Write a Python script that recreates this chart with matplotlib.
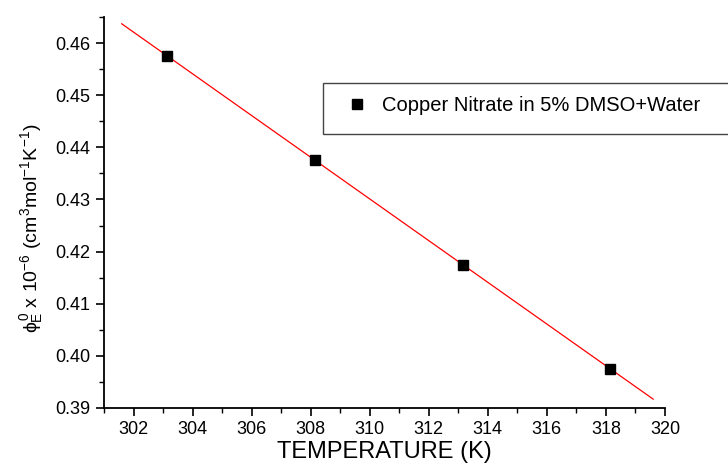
import matplotlib
matplotlib.use("Agg")
import matplotlib.pyplot as plt
from matplotlib.patches import Rectangle
from matplotlib.ticker import MultipleLocator, FormatStrFormatter
import numpy as np

# data
temperature = [303.15, 308.15, 313.15, 318.15]
phi_e = [0.4575, 0.4375, 0.4175, 0.3975]
series_label = "Copper Nitrate in 5% DMSO+Water"
fit_range = [301.6, 319.6]

plt.rcParams['font.family'] = ['Liberation Sans', 'DejaVu Sans']
plt.rcParams['mathtext.fontset'] = 'custom'
plt.rcParams['mathtext.rm'] = 'Liberation Sans'
plt.rcParams['mathtext.it'] = 'Liberation Sans'

fig = plt.figure(figsize=(7.28, 4.66), dpi=100)
ax = fig.add_axes([104 / 728, 1 - 408 / 466, (665 - 104) / 728, (408 - 17) / 466])

# linear fit
coef = np.polyfit(temperature, phi_e, 1)
xf = np.array(fit_range)
ax.plot(xf, np.polyval(coef, xf), color='red', lw=0.9)
ax.plot(temperature, phi_e, 's', color='black', markersize=7, label=series_label)

ax.set_xlim(301, 320)
ax.set_ylim(0.39, 0.465)
ax.xaxis.set_major_locator(MultipleLocator(2))
ax.xaxis.set_minor_locator(MultipleLocator(1))
ax.yaxis.set_major_locator(MultipleLocator(0.01))
ax.yaxis.set_minor_locator(MultipleLocator(0.005))
ax.yaxis.set_major_formatter(FormatStrFormatter('%.2f'))

for side in ['top', 'right']:
    ax.spines[side].set_visible(False)
for side in ['left', 'bottom']:
    ax.spines[side].set_linewidth(1.3)
ax.tick_params(which='major', direction='out', length=6, width=1.2, labelsize=13)
ax.tick_params(axis='y', which='major', pad=4)
ax.tick_params(which='minor', direction='out', length=3.5, width=1.0)

ax.set_xlabel('TEMPERATURE (K)', fontsize=17, labelpad=2)
ax.set_ylabel(r'$\phi^0_E$ x 10$^{-6}$ (cm$^3$mol$^{-1}$K$^{-1}$)', fontsize=14)
ax.yaxis.set_label_coords(-0.105, 0.46)

leg = ax.legend(loc='upper left', bbox_to_anchor=(330 / 728, 1 - 82 / 466),
                bbox_transform=fig.transFigure, frameon=False, fontsize=14.5,
                handletextpad=0.6, borderpad=0.2, handlelength=1.3)
fig.patches.append(Rectangle((323 / 728, 1 - 134 / 466), 420 / 728, 51 / 466,
                             transform=fig.transFigure, fill=False,
                             edgecolor='#444444', lw=1.0))

fig.savefig('out.png', dpi=100)
